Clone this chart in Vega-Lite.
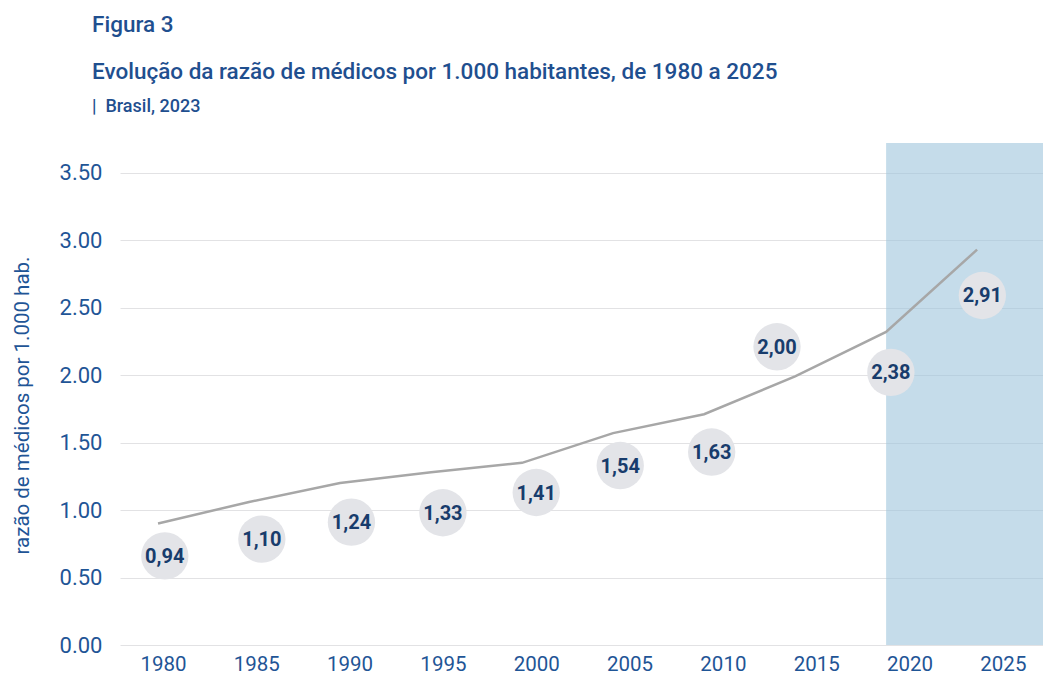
{
  "$schema": "https://vega.github.io/schema/vega-lite/v6.json",
  "width": 923,
  "height": 502,
  "autosize": {"type": "none"},
  "padding": {"left": 120, "top": 143, "right": 0, "bottom": 35},
  "background": "white",
  "title": {
    "text": ["Figura 3", "Evolução da razão de médicos por 1.000 habitantes, de 1980 a 2025"],
    "subtitle": "|\u00a0\u00a0Brasil, 2023",
    "anchor": "start",
    "frame": "group",
    "dx": -28,
    "offset": 27,
    "font": "Roboto",
    "fontSize": 22.5,
    "fontWeight": 500,
    "lineHeight": 47,
    "color": "#1f4f8f",
    "subtitleFont": "Roboto",
    "subtitleFontSize": 18,
    "subtitleFontWeight": 500,
    "subtitleColor": "#1f4f8f",
    "subtitlePadding": 15
  },
  "config": {
    "font": "Roboto",
    "view": {"stroke": null},
    "axis": {"labelFont": "Roboto", "titleFont": "Roboto", "labelColor": "#1f5596", "titleColor": "#1f5596"},
    "axisY": {
      "labelFontSize": 22,
      "labelPadding": 18,
      "ticks": false,
      "tickSize": 0,
      "domain": false,
      "grid": true,
      "gridColor": "#e2e2e4",
      "gridWidth": 1,
      "titleFontSize": 20.5,
      "titleFontWeight": "normal",
      "titleX": -98,
      "titleY": 262,
      "titleAlign": "center",
      "titleBaseline": "middle",
      "titleAngle": -90
    },
    "axisX": {
      "labelFontSize": 20.5,
      "labelPadding": 9,
      "ticks": false,
      "tickSize": 0,
      "domain": false,
      "grid": false
    }
  },
  "datasets": {
    "line": [
      {"year": 1980, "value": 0.90},
      {"year": 1985, "value": 1.06},
      {"year": 1990, "value": 1.20},
      {"year": 1995, "value": 1.28},
      {"year": 2000, "value": 1.35},
      {"year": 2005, "value": 1.57},
      {"year": 2010, "value": 1.71},
      {"year": 2015, "value": 1.99},
      {"year": 2020, "value": 2.32},
      {"year": 2025, "value": 2.93}
    ],
    "labels": [
      {"pos_year": 1980.1, "pos_value": 0.66, "label": "0,94"},
      {"pos_year": 1985.3, "pos_value": 0.785, "label": "1,10"},
      {"pos_year": 1990.1, "pos_value": 0.91, "label": "1,24"},
      {"pos_year": 1995.0, "pos_value": 0.98, "label": "1,33"},
      {"pos_year": 2000.0, "pos_value": 1.13, "label": "1,41"},
      {"pos_year": 2004.5, "pos_value": 1.33, "label": "1,54"},
      {"pos_year": 2009.4, "pos_value": 1.43, "label": "1,63"},
      {"pos_year": 2012.9, "pos_value": 2.21, "label": "2,00"},
      {"pos_year": 2019.0, "pos_value": 2.02, "label": "2,38"},
      {"pos_year": 2023.9, "pos_value": 2.59, "label": "2,91"}
    ],
    "shade": [{"start": 2020, "end": 2030}]
  },
  "resolve": {"scale": {"x": "independent"}, "axis": {"x": "independent"}},
  "layer": [
    {
      "layer": [
        {
          "data": {"name": "shade"},
          "mark": {"type": "rect", "fill": "#9ec5dc", "opacity": 0.6, "clip": true},
          "encoding": {
            "x": {"field": "start", "type": "quantitative", "scale": {"domain": [1977.91, 2028.62], "nice": false, "zero": false}, "axis": null},
            "x2": {"field": "end"},
            "y": {"datum": 0, "type": "quantitative", "scale": {"domain": [0, 3.72], "nice": false, "zero": true}, "title": "razão de médicos por 1.000 hab.", "axis": {"values": [0, 0.5, 1, 1.5, 2, 2.5, 3, 3.5], "format": ".2f"}},
            "y2": {"datum": 3.72}
          }
        },
        {
          "data": {"name": "line"},
          "mark": {"type": "line", "color": "#a7a7a7", "strokeWidth": 2.5},
          "encoding": {
            "x": {"field": "year", "type": "quantitative", "axis": null},
            "y": {"field": "value", "type": "quantitative", "title": "razão de médicos por 1.000 hab."}
          }
        }
      ]
    },
    {
      "data": {"name": "labels"},
      "encoding": {
        "x": {"field": "pos_year", "type": "quantitative", "scale": {"domain": [1977.70, 2027.15], "nice": false, "zero": false}, "title": null, "axis": {"values": [1980, 1985, 1990, 1995, 2000, 2005, 2010, 2015, 2020, 2025], "format": "d"}},
        "y": {"field": "pos_value", "type": "quantitative", "title": "razão de médicos por 1.000 hab."}
      },
      "layer": [
        {"mark": {"type": "circle", "size": 2240, "color": "#e3e4e8", "opacity": 1}},
        {"mark": {"type": "text", "font": "Roboto", "fontSize": 20, "fontWeight": "bold", "color": "#183c6c", "baseline": "middle", "align": "center", "dy": 1}, "encoding": {"text": {"field": "label"}}}
      ]
    }
  ]
}
